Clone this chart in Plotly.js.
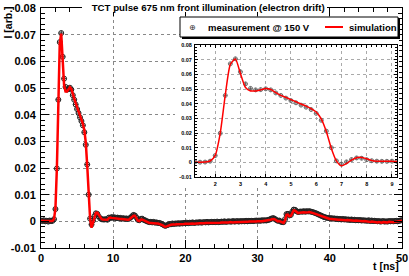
<!DOCTYPE html>
<html>
<head>
<meta charset="utf-8">
<script src="https://cdn.plot.ly/plotly-3.0.1.min.js"></script>
<style>html,body{margin:0;padding:0;background:#fff;}#chart{width:409px;height:276px;}</style>
</head>
<body>
<div id="chart"></div>
<script>
// time samples [ns]
const tNs = [
0,0.2,0.4,0.6,0.8,1,1.2,1.4,1.6,1.8,
2,2.2,2.4,2.6,2.8,3,3.2,3.4,3.6,3.8,
4,4.2,4.4,4.6,4.8,5,5.2,5.4,5.6,5.8,
6,6.2,6.4,6.6,6.8,7,7.2,7.4,7.6,7.8,
8,8.2,8.4,8.6,8.8,9,9.2,9.4,9.6,9.8,
10,10.2,10.4,10.6,10.8,11,11.2,11.4,11.6,11.8,
12,12.2,12.4,12.6,12.8,13,13.2,13.4,13.6,13.8,
14,14.2,14.4,14.6,14.8,15,15.2,15.4,15.6,15.8,
16,16.2,16.4,16.6,16.8,17,17.2,17.4,17.6,17.8,
18,18.2,18.4,18.6,18.8,19,19.2,19.4,19.6,19.8,
20,20.2,20.4,20.6,20.8,21,21.2,21.4,21.6,21.8,
22,22.2,22.4,22.6,22.8,23,23.2,23.4,23.6,23.8,
24,24.2,24.4,24.6,24.8,25,25.2,25.4,25.6,25.8,
26,26.2,26.4,26.6,26.8,27,27.2,27.4,27.6,27.8,
28,28.2,28.4,28.6,28.8,29,29.2,29.4,29.6,29.8,
30,30.2,30.4,30.6,30.8,31,31.2,31.4,31.6,31.8,
32,32.2,32.4,32.6,32.8,33,33.2,33.4,33.6,33.8,
34,34.2,34.4,34.6,34.8,35,35.2,35.4,35.6,35.8,
36,36.2,36.4,36.6,36.8,37,37.2,37.4,37.6,37.8,
38,38.2,38.4,38.6,38.8,39,39.2,39.4,39.6,39.8,
40,40.2,40.4,40.6,40.8,41,41.2,41.4,41.6,41.8,
42,42.2,42.4,42.6,42.8,43,43.2,43.4,43.6,43.8,
44,44.2,44.4,44.6,44.8,45,45.2,45.4,45.6,45.8,
46,46.2,46.4,46.6,46.8,47,47.2,47.4,47.6,47.8,
48,48.2,48.4,48.6,48.8,49,49.2,49.4,49.6,49.8,
50];

// measured current [arb.]
const measured = [
0.0003,0.0001,0.0004,0.0000,0.0002,-0.0001,0.0003,0.0001,0.0002,0.0008,
0.0046,0.0198,0.0456,0.0672,0.0706,0.0617,0.0535,0.0504,0.0494,0.0496,
0.0501,0.0494,0.0473,0.0456,0.0438,0.0421,0.0406,0.0390,0.0376,0.0360,
0.0334,0.0287,0.0213,0.0100,0.0010,-0.0012,0.0003,0.0019,0.0030,0.0028,
0.0018,0.0011,0.0008,0.0007,0.0007,0.0008,0.0006,0.0014,0.0012,0.0016,
0.0013,0.0015,0.0012,0.0014,0.0011,0.0013,0.0010,0.0012,0.0009,0.0011,
0.0009,0.0010,0.0014,0.0019,0.0024,0.0022,0.0015,0.0006,0.0004,0.0009,
0.0010,0.0006,0.0004,0.0001,-0.0001,-0.0003,-0.0002,-0.0004,-0.0002,-0.0005,
-0.0004,-0.0006,-0.0006,-0.0008,-0.0011,-0.0014,-0.0017,-0.0015,-0.0013,-0.0010,
-0.0011,-0.0008,-0.0010,-0.0008,-0.0009,-0.0007,-0.0009,-0.0007,-0.0008,-0.0006,
-0.0007,-0.0005,-0.0007,-0.0005,-0.0006,-0.0004,-0.0006,-0.0005,-0.0004,-0.0005,
-0.0003,-0.0005,-0.0004,-0.0003,-0.0004,-0.0002,-0.0004,-0.0003,-0.0002,-0.0003,
-0.0002,-0.0003,-0.0001,-0.0003,-0.0002,-0.0001,-0.0002,0.0000,-0.0002,-0.0001,
0.0000,-0.0001,-0.0001,0.0001,-0.0001,0.0000,0.0001,-0.0001,0.0001,0.0000,
0.0001,0.0000,0.0002,0.0000,0.0002,0.0001,0.0002,0.0001,0.0002,0.0003,
0.0002,0.0003,0.0002,0.0004,0.0003,0.0004,0.0003,0.0005,0.0006,0.0009,
0.0011,0.0012,0.0009,0.0005,0.0002,0.0003,-0.0001,-0.0003,-0.0003,0.0008,
0.0027,0.0028,0.0022,0.0024,0.0036,0.0044,0.0043,0.0038,0.0035,0.0036,
0.0037,0.0036,0.0038,0.0036,0.0038,0.0037,0.0038,0.0036,0.0035,0.0033,
0.0031,0.0029,0.0026,0.0024,0.0021,0.0019,0.0016,0.0015,0.0013,0.0013,
0.0011,0.0012,0.0010,0.0011,0.0009,0.0010,0.0008,0.0009,0.0007,0.0009,
0.0007,0.0008,0.0006,0.0007,0.0005,0.0007,0.0005,0.0006,0.0004,0.0005,
0.0004,0.0005,0.0003,0.0004,0.0003,0.0003,0.0002,0.0004,0.0001,0.0003,
0.0001,0.0002,0.0001,0.0000,0.0001,-0.0001,0.0000,0.0001,-0.0001,0.0000,
-0.0001,0.0001,0.0000,0.0001,0.0000,0.0001,0.0002,0.0000,0.0002,0.0003,
0.0004];

// simulated current [arb.]
const simulated = [
0.0002,0.0001,0.0002,0.0001,0.0001,0.0000,0.0001,0.0001,0.0002,0.0009,
0.0048,0.0200,0.0460,0.0668,0.0704,0.0605,0.0510,0.0487,0.0487,0.0494,
0.0503,0.0497,0.0476,0.0457,0.0443,0.0428,0.0413,0.0398,0.0383,0.0366,
0.0343,0.0296,0.0210,0.0095,0.0010,-0.0024,-0.0008,0.0015,0.0032,0.0033,
0.0025,0.0013,0.0008,0.0007,0.0007,0.0007,0.0006,0.0012,0.0014,0.0013,
0.0012,0.0011,0.0011,0.0010,0.0010,0.0009,0.0009,0.0008,0.0008,0.0007,
0.0006,0.0007,0.0010,0.0016,0.0021,0.0021,0.0013,0.0003,0.0001,0.0006,
0.0007,0.0004,0.0001,-0.0002,-0.0004,-0.0006,-0.0006,-0.0007,-0.0006,-0.0007,
-0.0008,-0.0008,-0.0010,-0.0011,-0.0014,-0.0018,-0.0020,-0.0019,-0.0016,-0.0014,
-0.0013,-0.0012,-0.0013,-0.0012,-0.0011,-0.0011,-0.0012,-0.0011,-0.0010,-0.0010,
-0.0009,-0.0010,-0.0009,-0.0009,-0.0008,-0.0008,-0.0009,-0.0008,-0.0007,-0.0008,
-0.0007,-0.0007,-0.0008,-0.0007,-0.0006,-0.0006,-0.0007,-0.0006,-0.0006,-0.0005,
-0.0006,-0.0005,-0.0005,-0.0006,-0.0005,-0.0004,-0.0005,-0.0004,-0.0004,-0.0005,
-0.0004,-0.0003,-0.0004,-0.0004,-0.0003,-0.0003,-0.0004,-0.0003,-0.0002,-0.0003,
-0.0002,-0.0003,-0.0002,-0.0002,-0.0001,-0.0002,-0.0001,-0.0001,-0.0002,-0.0001,
0.0000,-0.0001,0.0000,0.0000,0.0001,0.0000,0.0001,0.0002,0.0003,0.0006,
0.0008,0.0009,0.0007,0.0003,0.0000,0.0001,-0.0002,-0.0005,-0.0006,0.0004,
0.0024,0.0025,0.0019,0.0020,0.0032,0.0041,0.0040,0.0035,0.0031,0.0032,
0.0033,0.0034,0.0034,0.0033,0.0035,0.0034,0.0035,0.0034,0.0032,0.0030,
0.0028,0.0026,0.0023,0.0021,0.0019,0.0016,0.0014,0.0012,0.0011,0.0010,
0.0009,0.0009,0.0008,0.0008,0.0007,0.0007,0.0006,0.0006,0.0005,0.0006,
0.0005,0.0004,0.0005,0.0004,0.0003,0.0004,0.0003,0.0002,0.0003,0.0002,
0.0001,0.0002,0.0001,0.0000,0.0001,0.0000,-0.0001,0.0000,-0.0002,-0.0001,
-0.0002,-0.0003,-0.0002,-0.0004,-0.0003,-0.0004,-0.0005,-0.0003,-0.0004,-0.0003,
-0.0004,-0.0002,-0.0003,-0.0002,-0.0003,-0.0002,-0.0001,-0.0002,0.0000,0.0001,
0.0002];

const yTickVals = [-0.01,0,0.01,0.02,0.03,0.04,0.05,0.06,0.07,0.08];
const yTickText = ["-0.01","0","0.01","0.02","0.03","0.04","0.05","0.06","0.07","0.08"];
const insetXTickVals = [2,3,4,5,6,7,8,9];
const insetXTickText = ["2","3","4","5","6","7","8","9"];

const titleText = "TCT pulse 675 nm front illumination (electron drift)";
const measLabel = "measurement @ 150 V";
const simLabel = "simulation";

const FONT = "Liberation Sans, Arial, Helvetica, sans-serif";
const bold = (size) => ({family: FONT, size: size, color: "#000", weight: "bold"});

// helpers: pixel -> paper fraction (plot area 41..402 x, 8..248 y)
const px = (p) => (p - 41) / 361;
const py = (p) => (248 - p) / 240;

const traces = [
  {x: tNs, y: measured, type: "scatter", mode: "markers", name: measLabel,
   xaxis: "x", yaxis: "y", showlegend: false,
   marker: {symbol: "circle-cross-open", size: 5, color: "#222", line: {width: 1, color: "#222"}}},
  {x: tNs, y: simulated, type: "scatter", mode: "lines", name: simLabel,
   xaxis: "x", yaxis: "y", showlegend: false,
   line: {color: "#ff0000", width: 2.5}},
  // empty trace that creates the white inset pad
  {x: [], y: [], type: "scatter", mode: "markers", showlegend: false, xaxis: "x2", yaxis: "y2"},
  {x: tNs, y: measured, type: "scatter", mode: "markers", showlegend: false,
   xaxis: "x3", yaxis: "y3",
   marker: {symbol: "circle-cross-open", size: 4, color: "#555", line: {width: 0.8, color: "#555"}}},
  {x: tNs, y: simulated, type: "scatter", mode: "lines", showlegend: false,
   xaxis: "x3", yaxis: "y3",
   line: {color: "#ff0000", width: 1.5, shape: "spline", smoothing: 0.6}}
];

const hidden = (dom, anchor) => ({domain: dom, anchor: anchor, visible: true, showgrid: false,
  zeroline: false, showline: false, showticklabels: false, ticks: "", range: [0, 1], fixedrange: true});

const layout = {
  width: 409, height: 276,
  margin: {l: 41, r: 7, t: 8, b: 28, pad: 0},
  paper_bgcolor: "#fff", plot_bgcolor: "#fff",
  showlegend: false,
  title: {text: titleText, x: 0.509, xref: "container", y: 0.973, yref: "container",
          xanchor: "center", yanchor: "middle", font: bold(9.7)},
  xaxis: {
    domain: [0, 1], range: [0, 50], dtick: 10, tick0: 0,
    showline: true, linecolor: "#000", linewidth: 1, mirror: "ticks",
    ticks: "inside", ticklen: 8, tickcolor: "#000", tickwidth: 1,
    minor: {dtick: 2, ticks: "inside", ticklen: 4, tickcolor: "#000", showgrid: false},
    showgrid: true, gridcolor: "#888", griddash: "dot", gridwidth: 1,
    zeroline: false, tickfont: bold(11), anchor: "y"
  },
  yaxis: {
    domain: [0, 1], range: [-0.01, 0.08],
    tickmode: "array", tickvals: yTickVals, ticktext: yTickText,
    showline: true, linecolor: "#000", linewidth: 1, mirror: "ticks",
    ticks: "inside", ticklen: 8, tickcolor: "#000", tickwidth: 1,
    minor: {dtick: 0.002, ticks: "inside", ticklen: 4, tickcolor: "#000", showgrid: false},
    showgrid: true, gridcolor: "#888", griddash: "dot", gridwidth: 1,
    zeroline: false, tickfont: bold(11), anchor: "x", ticklabelstandoff: 2
  },
  xaxis2: hidden([px(175), px(399)], "y2"),
  yaxis2: hidden([py(188), py(38)], "x2"),
  xaxis3: {
    domain: [0.4266, 0.9861], range: [1.2, 9.2], anchor: "y3",
    tickmode: "array", tickvals: insetXTickVals, ticktext: insetXTickText,
    showline: true, linecolor: "#000", linewidth: 1, mirror: "ticks",
    ticks: "inside", ticklen: 3, tickcolor: "#000",
    minor: {dtick: 0.2, tick0: 0, ticks: "inside", ticklen: 1.5, tickcolor: "#000", showgrid: false},
    showgrid: true, gridcolor: "#aaa", griddash: "dot", gridwidth: 1,
    zeroline: false, tickfont: bold(5.5), ticklabelstandoff: 1
  },
  yaxis3: {
    domain: [0.2958, 0.8458], range: [-0.01, 0.08], anchor: "x3",
    tickmode: "array", tickvals: yTickVals, ticktext: yTickText,
    showline: true, linecolor: "#000", linewidth: 1, mirror: "ticks",
    ticks: "inside", ticklen: 3, tickcolor: "#000",
    minor: {dtick: 0.002, ticks: "inside", ticklen: 1.5, tickcolor: "#000", showgrid: false},
    showgrid: true, gridcolor: "#aaa", griddash: "dot", gridwidth: 1,
    zeroline: false, tickfont: bold(5.5), ticklabelstandoff: 1
  },
  shapes: [
    // title box background
    {type: "rect", xref: "paper", yref: "paper", x0: px(82), x1: px(327), y0: py(12), y1: py(2),
     fillcolor: "#fff", line: {width: 0}, layer: "above"},
    // legend shadow and box
    {type: "rect", xref: "paper", yref: "paper", x0: px(182), x1: px(400), y0: py(39), y1: py(19),
     fillcolor: "#000", line: {width: 0}, layer: "above"},
    {type: "rect", xref: "paper", yref: "paper", x0: px(180), x1: px(398), y0: py(37), y1: py(17),
     fillcolor: "#fff", line: {width: 1, color: "#000"}, layer: "above"},
    // legend line sample for simulation
    {type: "line", xref: "paper", yref: "paper", x0: px(325), x1: px(343), y0: py(27), y1: py(27),
     line: {width: 2, color: "#ff0000"}, layer: "above"}
  ],
  annotations: [
    {text: "I [arb.]", xref: "paper", yref: "paper", x: px(7.5), y: py(5),
     xanchor: "center", yanchor: "top", textangle: -90, showarrow: false, font: bold(10.5)},
    {text: "t [ns]", xref: "paper", yref: "paper", x: px(401), y: py(266),
     xanchor: "right", yanchor: "middle", showarrow: false, font: bold(10.5)},
    // legend entries
    {text: "\u2295", xref: "paper", yref: "paper", x: px(192), y: py(27),
     xanchor: "center", yanchor: "middle", showarrow: false,
     font: {family: "DejaVu Sans", size: 8, color: "#333"}},
    {text: measLabel, xref: "paper", yref: "paper", x: px(206), y: py(27),
     xanchor: "left", yanchor: "middle", showarrow: false, font: bold(9.5)},
    {text: simLabel, xref: "paper", yref: "paper", x: px(347), y: py(27),
     xanchor: "left", yanchor: "middle", showarrow: false, font: bold(9.5)}
  ]
};

Plotly.newPlot("chart", traces, layout, {displayModeBar: false, staticPlot: true});
</script>
</body>
</html>
